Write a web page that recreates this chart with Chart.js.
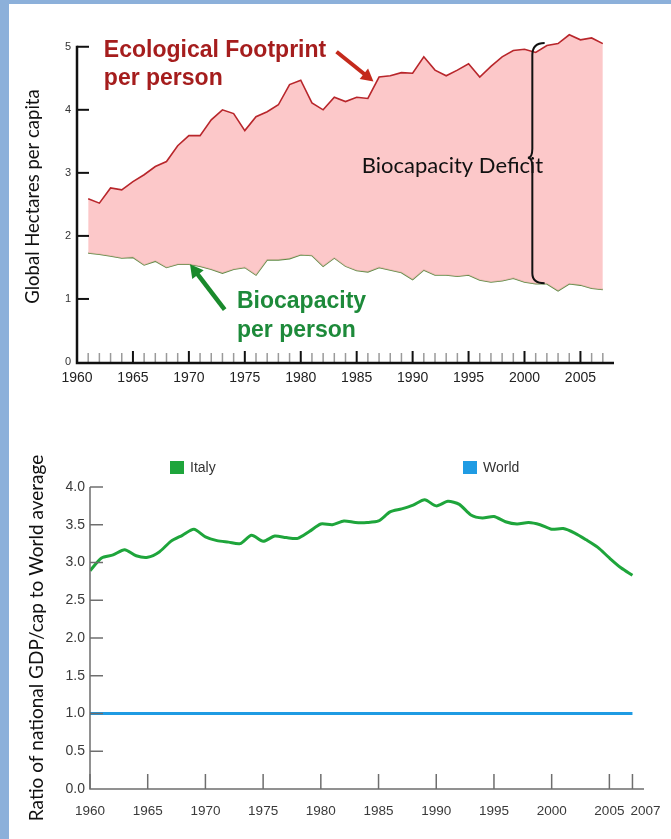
<!DOCTYPE html>
<html>
<head>
<meta charset="utf-8">
<script src="https://cdn.jsdelivr.net/npm/chart.js@4.4.1/dist/chart.umd.min.js"></script>
<style>
  html, body { margin: 0; padding: 0; background: #8cb0da; }
  #page { position: absolute; left: 9px; top: 4px; width: 662px; height: 835px; background: #fff; }
  #footprintChart { position: absolute; left: 0; top: 0; }
  #gdpChart { position: absolute; left: 0; top: 436px; }
</style>
</head>
<body>
<div id="page">
  <canvas id="footprintChart" width="662" height="386"></canvas>
  <canvas id="gdpChart" width="662" height="399"></canvas>
</div>
<script>
// --- top chart: ecological footprint vs biocapacity (global ha per capita)
const FOOTPRINT_YEARS = Array.from({ length: 47 }, (_, i) => 1961 + i);

const FOOTPRINT = [
  2.59, 2.52, 2.76, 2.73, 2.86, 2.97, 3.10, 3.18, 3.43, 3.59,
  3.59, 3.84, 4.00, 3.94, 3.67, 3.89, 3.97, 4.08, 4.40, 4.47,
  4.11, 4.00, 4.20, 4.13, 4.20, 4.18, 4.52, 4.54, 4.59, 4.58,
  4.84, 4.63, 4.54, 4.63, 4.73, 4.52, 4.69, 4.84, 4.94, 4.96,
  4.91, 5.02, 5.05, 5.19, 5.11, 5.14, 5.05,
];

const BIOCAPACITY = [
  1.73, 1.71, 1.68, 1.65, 1.66, 1.54, 1.60, 1.50, 1.55, 1.55,
  1.52, 1.47, 1.41, 1.47, 1.50, 1.38, 1.62, 1.62, 1.64, 1.70,
  1.69, 1.52, 1.65, 1.52, 1.45, 1.43, 1.50, 1.46, 1.42, 1.31,
  1.46, 1.38, 1.38, 1.36, 1.38, 1.30, 1.27, 1.29, 1.33, 1.27,
  1.24, 1.24, 1.13, 1.24, 1.22, 1.17, 1.15,
];

const FOOTPRINT_Y_TICKS = [0, 1, 2, 3, 4, 5];

// --- bottom chart: GDP per capita ratio, Italy vs World
const GDP_YEARS = Array.from({ length: 48 }, (_, i) => 1960 + i);

const ITALY = [
  2.89, 3.06, 3.10, 3.17, 3.09, 3.07, 3.14, 3.28, 3.36, 3.44,
  3.34, 3.29, 3.27, 3.25, 3.36, 3.28, 3.35, 3.33, 3.32, 3.41,
  3.51, 3.50, 3.55, 3.53, 3.53, 3.55, 3.67, 3.71, 3.76, 3.83,
  3.75, 3.81, 3.77, 3.63, 3.59, 3.61, 3.54, 3.51, 3.53, 3.50,
  3.44, 3.45, 3.39, 3.30, 3.20, 3.06, 2.93, 2.83,
];

const WORLD = [
  1, 1, 1, 1, 1, 1, 1, 1, 1, 1,
  1, 1, 1, 1, 1, 1, 1, 1, 1, 1,
  1, 1, 1, 1, 1, 1, 1, 1, 1, 1,
  1, 1, 1, 1, 1, 1, 1, 1, 1, 1,
  1, 1, 1, 1, 1, 1, 1, 1,
];

const GDP_X_TICKS = [1960, 1965, 1970, 1975, 1980, 1985, 1990, 1995, 2000, 2005, 2007];

const TICK_FONT = "'Liberation Sans', Arial, sans-serif";

function drawArrow(ctx, x1, y1, x2, y2, color, width, head) {
  const ang = Math.atan2(y2 - y1, x2 - x1);
  ctx.save();
  ctx.strokeStyle = color;
  ctx.fillStyle = color;
  ctx.lineWidth = width;
  ctx.beginPath();
  ctx.moveTo(x1, y1);
  ctx.lineTo(x2 - Math.cos(ang) * head * 0.7, y2 - Math.sin(ang) * head * 0.7);
  ctx.stroke();
  ctx.beginPath();
  ctx.moveTo(x2, y2);
  ctx.lineTo(x2 - head * Math.cos(ang - 0.5), y2 - head * Math.sin(ang - 0.5));
  ctx.lineTo(x2 - head * Math.cos(ang + 0.5), y2 - head * Math.sin(ang + 0.5));
  ctx.closePath();
  ctx.fill();
  ctx.restore();
}

// axes, ticks and the annotations of the top chart
const footprintDecor = {
  id: "footprintDecor",
  afterDatasetsDraw(chart) {
    const { ctx, chartArea } = chart;
    const x = chart.scales.x;
    const y = chart.scales.y;
    const X = (v) => x.getPixelForValue(v);
    const Y = (v) => y.getPixelForValue(v);
    ctx.save();

    // x ticks (every year, bigger every 5)
    for (let yr = 1961; yr <= 2007; yr++) {
      const major = yr % 5 === 0;
      ctx.strokeStyle = major ? "#111" : "#9a9a9a";
      ctx.lineWidth = major ? 2 : 1.5;
      ctx.beginPath();
      ctx.moveTo(X(yr), chartArea.bottom);
      ctx.lineTo(X(yr), chartArea.bottom - (major ? 11 : 9));
      ctx.stroke();
    }
    // y ticks, drawn inwards
    ctx.strokeStyle = "#111";
    ctx.lineWidth = 2;
    FOOTPRINT_Y_TICKS.slice(1).forEach((v) => {
      ctx.beginPath();
      ctx.moveTo(chartArea.left, Y(v));
      ctx.lineTo(chartArea.left + 12, Y(v));
      ctx.stroke();
    });
    // axis lines
    ctx.lineWidth = 2.5;
    ctx.beginPath();
    ctx.moveTo(chartArea.left, Y(5) - 1);
    ctx.lineTo(chartArea.left, chartArea.bottom + 1);
    ctx.lineTo(chartArea.right, chartArea.bottom + 1);
    ctx.stroke();

    // labels
    ctx.font = "bold 23px 'Liberation Sans', Arial, sans-serif";
    ctx.textAlign = "left";
    ctx.textBaseline = "alphabetic";
    ctx.fillStyle = "#a51d1d";
    ctx.fillText("Ecological Footprint", X(1962.4), Y(4.83));
    ctx.fillText("per person", X(1962.4), Y(4.40));
    drawArrow(ctx, X(1983.2), Y(4.92), X(1986.5), Y(4.45), "#c42a1c", 4, 14);

    ctx.fillStyle = "#1d8a3a";
    ctx.fillText("Biocapacity", X(1974.3), Y(0.86));
    ctx.fillText("per person", X(1974.3), Y(0.40));
    drawArrow(ctx, X(1973.2), Y(0.83), X(1970.1), Y(1.55), "#1a8a2c", 4.5, 15);

    ctx.fillStyle = "#111";
    ctx.font = "22px Lato, 'Open Sans', sans-serif";
    ctx.fillText("Biocapacity Deficit", X(1985.45), Y(3.0));

    // curly brace spanning the deficit
    const bx = X(2000.7), bc = X(2001.8), cusp = X(2000.3);
    const yTop = Y(5.06), yMid = Y(3.24), yBot = Y(1.25);
    ctx.strokeStyle = "#111";
    ctx.lineWidth = 2;
    ctx.beginPath();
    ctx.moveTo(bc, yTop);
    ctx.quadraticCurveTo(bx, yTop, bx, yTop + 12);
    ctx.lineTo(bx, yMid - 9);
    ctx.quadraticCurveTo(bx, yMid, cusp, yMid);
    ctx.quadraticCurveTo(bx, yMid, bx, yMid + 9);
    ctx.lineTo(bx, yBot - 10);
    ctx.quadraticCurveTo(bx, yBot, bc, yBot);
    ctx.stroke();
    ctx.restore();
  },
};

new Chart(document.getElementById("footprintChart").getContext("2d"), {
  type: "line",
  data: {
    labels: FOOTPRINT_YEARS,
    datasets: [
      {
        label: "Ecological Footprint per person",
        data: FOOTPRINT,
        borderColor: "#b8262b",
        borderWidth: 1.6,
        backgroundColor: "rgba(252, 190, 192, 0.85)",
        fill: "+1",
        pointRadius: 0,
        tension: 0,
      },
      {
        label: "Biocapacity per person",
        data: BIOCAPACITY,
        borderColor: "#5e8a44",
        borderWidth: 1.6,
        fill: false,
        pointRadius: 0,
        tension: 0,
      },
    ],
  },
  options: {
    responsive: false,
    animation: false,
    layout: { padding: { top: 27, right: 57, left: 0, bottom: 0 } },
    plugins: { legend: { display: false }, tooltip: { enabled: false } },
    scales: {
      x: {
        type: "linear",
        min: 1960,
        max: 2008,
        grid: { display: false, drawTicks: false },
        border: { display: false },
        afterFit: (s) => { s.height = 28; },
        ticks: {
          stepSize: 1,
          autoSkip: false,
          maxRotation: 0,
          padding: 8,
          color: "#222",
          font: { family: TICK_FONT, size: 14 },
          callback: (v) => (v % 5 === 0 ? String(v) : ""),
        },
      },
      y: {
        min: 0,
        max: 5.25,
        grid: { display: false, drawTicks: false },
        border: { display: false },
        afterFit: (s) => { s.width = 68; },
        afterBuildTicks: (s) => { s.ticks = FOOTPRINT_Y_TICKS.map((v) => ({ value: v })); },
        ticks: {
          padding: 6,
          color: "#333",
          font: { family: TICK_FONT, size: 11 },
        },
        title: {
          display: true,
          text: "Global Hectares per capita",
          color: "#111",
          padding: { top: 13, bottom: 0 },
          font: { family: "Lato, 'Open Sans', sans-serif", size: 18.5 },
        },
      },
    },
  },
  plugins: [footprintDecor],
});

// axes, ticks and legend of the bottom chart
const gdpDecor = {
  id: "gdpDecor",
  afterDatasetsDraw(chart) {
    const { ctx, chartArea } = chart;
    const x = chart.scales.x;
    const y = chart.scales.y;
    ctx.save();
    ctx.strokeStyle = "#6e6e6e";
    ctx.lineWidth = 1.5;
    y.ticks.forEach((t) => {
      if (t.value === 0) return;
      const py = y.getPixelForValue(t.value);
      ctx.beginPath();
      ctx.moveTo(chartArea.left, py);
      ctx.lineTo(chartArea.left + 13, py);
      ctx.stroke();
    });
    x.ticks.forEach((t) => {
      const px = x.getPixelForValue(t.value);
      ctx.beginPath();
      ctx.moveTo(px, chartArea.bottom);
      ctx.lineTo(px, chartArea.bottom - 15);
      ctx.stroke();
    });
    ctx.beginPath();
    ctx.moveTo(chartArea.left, chartArea.top);
    ctx.lineTo(chartArea.left, chartArea.bottom);
    ctx.lineTo(chartArea.right, chartArea.bottom);
    ctx.stroke();

    // last year label sits just right of its tick, clear of 2005
    const last = GDP_X_TICKS[GDP_X_TICKS.length - 1];
    ctx.font = "13.5px " + TICK_FONT;
    ctx.fillStyle = "#3a3a3a";
    ctx.textAlign = "left";
    ctx.textBaseline = "top";
    ctx.fillText(String(last), x.getPixelForValue(last) - 2, chartArea.bottom + 16);

    // legend, spread out as in the original
    const spots = [161, 454];
    ctx.font = "14px " + TICK_FONT;
    ctx.textBaseline = "middle";
    chart.data.datasets.forEach((ds, i) => {
      ctx.fillStyle = ds.borderColor;
      ctx.fillRect(spots[i], 21, 14, 13);
      ctx.fillStyle = "#333";
      ctx.fillText(ds.label, spots[i] + 20, 28);
    });
    ctx.restore();
  },
};

new Chart(document.getElementById("gdpChart").getContext("2d"), {
  type: "line",
  data: {
    labels: GDP_YEARS,
    datasets: [
      {
        label: "Italy",
        data: ITALY,
        borderColor: "#1ea53b",
        borderWidth: 3,
        pointRadius: 0,
        tension: 0.25,
        fill: false,
      },
      {
        label: "World",
        data: WORLD,
        borderColor: "#1f9be3",
        borderWidth: 3,
        pointRadius: 0,
        tension: 0,
        fill: false,
      },
    ],
  },
  options: {
    responsive: false,
    animation: false,
    layout: { padding: { top: 47, right: 27, left: 0, bottom: 0 } },
    plugins: { legend: { display: false }, tooltip: { enabled: false } },
    scales: {
      x: {
        type: "linear",
        min: 1960,
        max: 2008,
        grid: { display: false, drawTicks: false },
        border: { display: false },
        afterFit: (s) => { s.height = 50; },
        afterBuildTicks: (s) => { s.ticks = GDP_X_TICKS.map((v) => ({ value: v })); },
        ticks: {
          autoSkip: false,
          maxRotation: 0,
          padding: 14,
          color: "#3a3a3a",
          font: { family: TICK_FONT, size: 13.5 },
          callback: (v) => (v === GDP_X_TICKS[GDP_X_TICKS.length - 1] ? "" : String(v)),
        },
      },
      y: {
        min: 0,
        max: 4,
        grid: { display: false, drawTicks: false },
        border: { display: false },
        afterFit: (s) => { s.width = 81; },
        ticks: {
          stepSize: 0.5,
          padding: 5,
          color: "#3a3a3a",
          font: { family: TICK_FONT, size: 14 },
          callback: (v) => v.toFixed(1),
        },
        title: {
          display: true,
          text: "Ratio of national GDP/cap to World average",
          color: "#111",
          padding: { top: 16, bottom: 0 },
          font: { family: "Lato, 'Open Sans', sans-serif", size: 19 },
        },
      },
    },
  },
  plugins: [gdpDecor],
});
</script>
</body>
</html>
